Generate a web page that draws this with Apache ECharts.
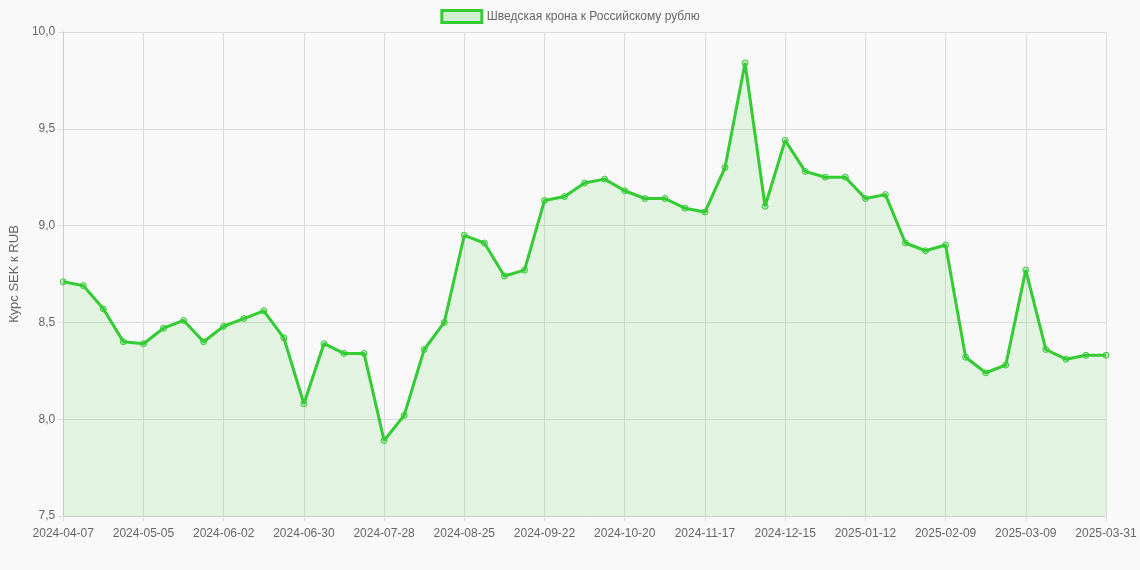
<!DOCTYPE html>
<html><head><meta charset="utf-8">
<script src="https://cdn.jsdelivr.net/npm/echarts@6/dist/echarts.min.js"></script>
<style>html,body{margin:0;padding:0;background:#f9f9f9}#c{width:1140px;height:570px}</style>
</head><body><div id="c"></div>
<script>
const seriesName = 'Шведская крона к Российскому рублю';
const yAxisTitle = 'Курс SEK к RUB';
const categories = (function(){const a=[];const d=new Date(Date.UTC(2024,3,7));for(let i=0;i<52;i++){a.push(new Date(d.getTime()+i*7*864e5).toISOString().slice(0,10));}a.push('2025-03-31');return a;})();
const values = [8.71,8.69,8.57,8.40,8.39,8.47,8.51,8.40,8.48,8.52,8.56,8.42,8.08,8.39,8.34,8.34,7.89,8.02,8.36,8.50,
8.95,8.91,8.74,8.77,9.13,9.15,9.22,9.24,9.18,9.14,9.14,9.09,9.07,9.30,9.84,9.10,9.44,9.28,9.25,9.25,
9.14,9.16,8.91,8.87,8.90,8.32,8.24,8.28,8.77,8.36,8.31,8.33,8.33];
const chart = echarts.init(document.getElementById('c'));
const last = categories.length-1;
chart.setOption({
  backgroundColor:'#f9f9f9',
  animation:false,
  legend:{top:4,left:'center',itemWidth:40,itemHeight:12,textStyle:{color:'#666',fontSize:12,fontFamily:'Liberation Sans, Arial'},
    data:[{name:seriesName,icon:'rect',itemStyle:{color:'rgba(50,200,50,0.2)',borderColor:'#33cc33',borderWidth:3}}]},
  grid:{left:62,right:34,top:32,bottom:54},
  xAxis:{type:'category',boundaryGap:false,data:categories,
    axisLine:{lineStyle:{color:'#ccc'}},axisTick:{show:true,interval:(i)=>i%4===0||i===last,lineStyle:{color:'#ddd'}},
    axisLabel:{interval:(i)=>i%4===0||i===last,color:'#666',fontSize:12,fontFamily:'Liberation Sans, Arial',margin:12},
    splitLine:{show:true,interval:(i)=>i%4===0||i===last,lineStyle:{color:'#dcdcdc'}}},
  yAxis:{type:'value',min:7.5,max:10,interval:0.5,name:yAxisTitle,nameLocation:'middle',nameGap:42,
    nameTextStyle:{color:'#666',fontSize:13,fontFamily:'Liberation Sans, Arial'},
    axisLine:{show:true,lineStyle:{color:'#ccc'}},axisTick:{show:true,lineStyle:{color:'#ddd'}},
    axisLabel:{color:'#666',fontSize:12,fontFamily:'Liberation Sans, Arial',formatter:v=>v.toFixed(1).replace('.',',')},
    splitLine:{lineStyle:{color:'#dcdcdc'}}},
  series:[{name:seriesName,type:'line',data:values,symbol:'circle',symbolSize:6,showAllSymbol:true,
    lineStyle:{color:'#33cc33',width:3},itemStyle:{color:'rgba(50,200,50,0.25)',borderColor:'#33cc33',borderWidth:1},
    areaStyle:{color:'rgba(50,205,50,0.16)'}}]
});
</script></body></html>
